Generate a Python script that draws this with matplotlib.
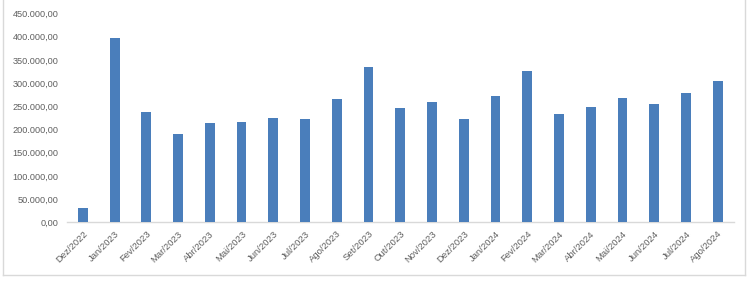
import matplotlib
matplotlib.use("Agg")
import matplotlib.pyplot as plt
from matplotlib.lines import Line2D

categories = ["Dez/2022", "Jan/2023", "Fev/2023", "Mar/2023", "Abr/2023", "Mai/2023",
              "Jun/2023", "Jul/2023", "Ago/2023", "Set/2023", "Out/2023", "Nov/2023",
              "Dez/2023", "Jan/2024", "Fev/2024", "Mar/2024", "Abr/2024", "Mai/2024",
              "Jun/2024", "Jul/2024", "Ago/2024"]
values = [30000, 397000, 238000, 190000, 214000, 217000,
          225000, 222000, 266000, 335000, 246000, 259000,
          222000, 273000, 326000, 233000, 249000, 267000,
          255000, 279000, 305000]
yticks = [0, 50000, 100000, 150000, 200000, 250000, 300000, 350000, 400000, 450000]
ytick_labels = ["0,00", "50.000,00", "100.000,00", "150.000,00", "200.000,00",
                "250.000,00", "300.000,00", "350.000,00", "400.000,00", "450.000,00"]

plt.rcParams['font.family'] = ['Liberation Sans', 'DejaVu Sans']

fig = plt.figure(figsize=(7.47, 2.82), dpi=100)
ax = fig.add_axes([0.0897, 0.2117, 0.982 - 0.0897, 0.952 - 0.2117])

x = list(range(len(categories)))
ax.bar(x, values, width=0.31, color="#4a7ebb", zorder=3)

ax.set_xlim(-0.5, len(categories) - 0.5)
ax.set_ylim(0, 450000)
ax.set_yticks(yticks)
ax.set_yticklabels(ytick_labels, fontsize=6.6, color="#5f5f5f")
ax.set_xticks(x)
ax.set_xticklabels(categories, rotation=45, ha="right", rotation_mode="anchor",
                   fontsize=6.8, color="#5f5f5f")
ax.tick_params(axis="both", length=0)
ax.tick_params(axis="y", pad=6)
ax.tick_params(axis="x", pad=5)

for s in ["top", "right", "left"]:
    ax.spines[s].set_visible(False)
ax.spines["bottom"].set_color("#d9d9d9")
ax.spines["bottom"].set_linewidth(1.0)

# chart border (left, bottom, right)
W, H = 747.0, 282.0
bx0, bx1, by = 3 / W, 745 / W, 1 - 275 / H
fig.add_artist(Line2D([bx0, bx0], [by, 1.0], color="#d9d9d9", lw=1.0, transform=fig.transFigure))
fig.add_artist(Line2D([bx1, bx1], [by, 1.0], color="#d9d9d9", lw=1.0, transform=fig.transFigure))
fig.add_artist(Line2D([bx0, bx1], [by, by], color="#d9d9d9", lw=1.0, transform=fig.transFigure))

fig.savefig("out.png", dpi=100)
